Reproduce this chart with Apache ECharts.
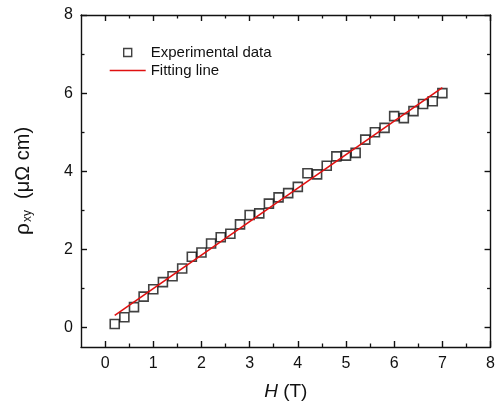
<!DOCTYPE html>
<html>
<head>
<meta charset="utf-8">
<script src="https://cdn.jsdelivr.net/npm/echarts@6/dist/echarts.min.js"></script>
<style>
html,body{margin:0;padding:0;background:#fff;}
#chart{width:498px;height:412px;}
</style>
</head>
<body>
<div id="chart"></div>
<script>
// Field values H (T)
const fieldH = [0.2,0.4,0.6,0.8,1.0,1.2,1.4,1.6,1.8,2.0,2.2,2.4,2.6,2.8,3.0,3.2,3.4,3.6,3.8,4.0,4.2,4.4,4.6,4.8,5.0,5.2,5.4,5.6,5.8,6.0,6.2,6.4,6.6,6.8,7.0];
// Measured rho_xy (μΩ cm)
const rhoXY = [0.09,0.26,0.52,0.79,0.98,1.16,1.31,1.51,1.81,1.92,2.15,2.31,2.40,2.64,2.88,2.92,3.17,3.33,3.44,3.60,3.95,3.92,4.14,4.38,4.40,4.47,4.81,5.00,5.11,5.41,5.36,5.54,5.72,5.79,6.00];
// Fitting line end points
const fitH = [0.2, 7.0];
const fitRho = [0.31, 6.14];
// Ticks
const xMajorTicks = [0,1,2,3,4,5,6,7,8];
const xMinorTicks = [0.5,1.5,2.5,3.5,4.5,5.5,6.5,7.5];
const yMajorTicks = [0,2,4,6,8];
const yMinorTicks = [1,3,5,7];
const seriesNames = ['Experimental data', 'Fitting line'];

const FONT = 'Liberation Sans, Arial, sans-serif';
const AX = '#111';
const RED = '#e01010';

function axisBase(extra) {
  return Object.assign({
    type: 'value', min: -0.5, max: 8,
    splitLine: {show: false},
    axisLine: {show: false, onZero: false},
    axisLabel: {show: false},
    axisTick: {show: false}
  }, extra);
}
const lineOn = {show: true, onZero: false, lineStyle: {color: AX, width: 1.4}};
const lineOff = {show: false, onZero: false};
const majTick = (vals) => ({show: true, inside: true, length: 6, customValues: vals, lineStyle: {color: AX, width: 1.4}});
const minTick = (vals) => ({show: true, inside: true, length: 3.5, customValues: vals, lineStyle: {color: AX, width: 1.3}});

const xAxes = [
  axisBase({
    position: 'bottom', axisLine: lineOn, axisTick: majTick(xMajorTicks),
    axisLabel: {show: true, customValues: xMajorTicks, margin: 9, color: '#111', fontSize: 16, fontFamily: FONT},
    name: '{i|H} (T)', nameLocation: 'middle', nameGap: 35,
    nameTextStyle: {fontSize: 19, fontFamily: FONT, color: '#111', rich: {i: {fontStyle: 'italic', fontSize: 19, fontFamily: FONT, color: '#111'}}}
  }),
  axisBase({position: 'bottom', axisLine: lineOff, axisTick: minTick(xMinorTicks)}),
  axisBase({position: 'top', axisLine: lineOn, axisTick: majTick(xMajorTicks)}),
  axisBase({position: 'top', axisLine: lineOff, axisTick: minTick(xMinorTicks)})
];

const yAxes = [
  axisBase({
    position: 'left', axisLine: lineOn, axisTick: majTick(yMajorTicks),
    axisLabel: {show: true, customValues: yMajorTicks, margin: 8, color: '#111', fontSize: 16, fontFamily: FONT},
    name: '{r|ρ}{s|xy}{u|  (μΩ cm)}', nameLocation: 'middle', nameGap: 47, nameRotate: 90,
    nameTextStyle: {fontFamily: FONT, color: '#111', rich: {
      r: {fontSize: 21, fontFamily: FONT, color: '#111'},
      s: {fontSize: 12, fontFamily: FONT, color: '#111', verticalAlign: 'bottom', padding: [10, 0, 0, 1]},
      u: {fontSize: 20, fontFamily: FONT, color: '#111'}
    }}
  }),
  axisBase({position: 'left', axisLine: lineOff, axisTick: minTick(yMinorTicks)}),
  axisBase({position: 'right', axisLine: lineOn, axisTick: majTick(yMajorTicks)}),
  axisBase({position: 'right', axisLine: lineOff, axisTick: minTick(yMinorTicks)})
];

const scatterData = fieldH.map((h, i) => [h, rhoXY[i]]);
const fitData = fitH.map((h, i) => [h, fitRho[i]]);

const chart = echarts.init(document.getElementById('chart'), null, {renderer: 'canvas'});
chart.setOption({
  animation: false,
  backgroundColor: '#fff',
  grid: {left: 81, right: 4, top: 15, bottom: 65, containLabel: false},
  xAxis: xAxes,
  yAxis: yAxes,
  legend: {
    orient: 'vertical', left: 109, top: 45, padding: 0, itemGap: 3,
    itemWidth: 36, itemHeight: 8,
    data: [
      {name: seriesNames[0], icon: 'path://M0,0 M36,8 M14,0 L22,0 L22,8 L14,8 Z',
       itemStyle: {color: 'rgba(0,0,0,0)', borderColor: '#111', borderWidth: 1.4}},
      {name: seriesNames[1], icon: 'path://M0,0 M36,8 M0,3.25 L36,3.25 L36,4.75 L0,4.75 Z',
       itemStyle: {color: RED, borderWidth: 0}}
    ],
    textStyle: {fontSize: 15, fontFamily: FONT, color: '#111'}
  },
  series: [
    {
      name: seriesNames[0], type: 'scatter', xAxisIndex: 0, yAxisIndex: 0,
      symbol: 'rect', symbolSize: 9,
      itemStyle: {color: 'rgba(0,0,0,0)', borderColor: '#111', borderWidth: 1.6},
      data: scatterData, z: 2
    },
    {
      name: seriesNames[1], type: 'line', xAxisIndex: 0, yAxisIndex: 0,
      symbol: 'none', lineStyle: {color: RED, width: 1.6},
      itemStyle: {color: RED},
      data: fitData, z: 3
    }
  ]
});
</script>
</body>
</html>
